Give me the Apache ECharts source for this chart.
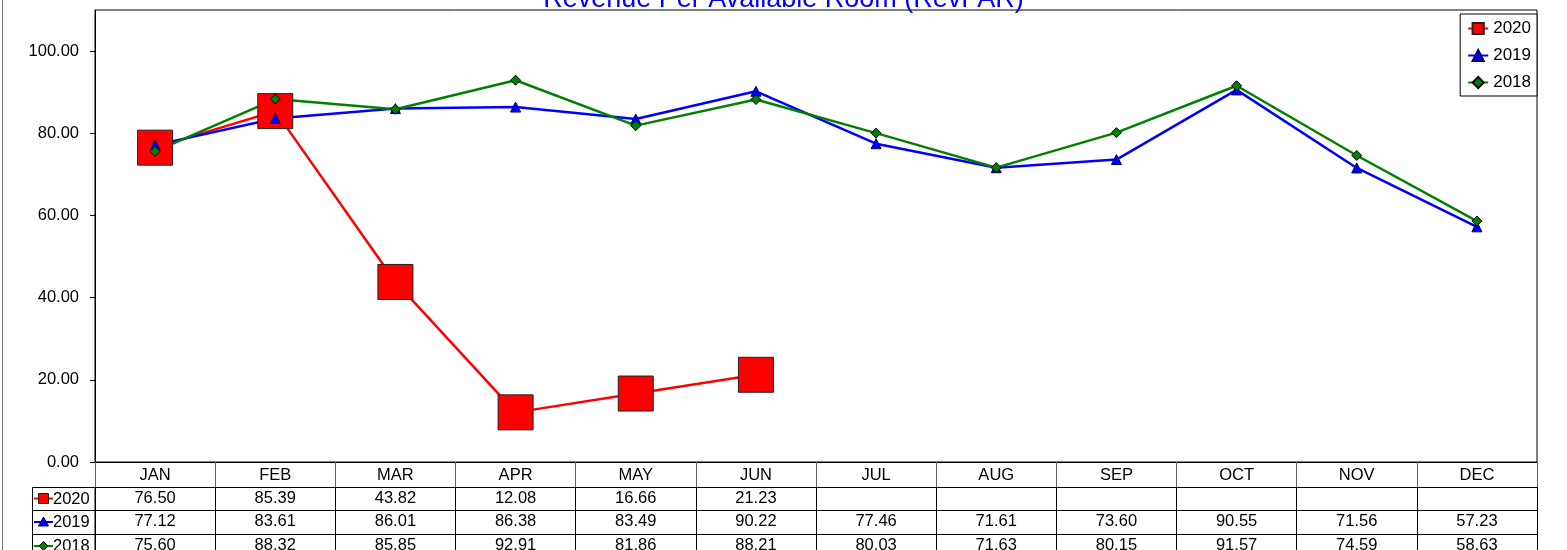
<!DOCTYPE html>
<html>
<head>
<meta charset="utf-8">
<style>
html,body{margin:0;padding:0;background:#fff;}
#chart{width:1567px;height:550px;}
</style>
<script src="https://cdn.jsdelivr.net/npm/echarts@6/dist/echarts.min.js"></script>
</head>
<body>
<div id="chart"></div>
<script>
const months = ['JAN','FEB','MAR','APR','MAY','JUN','JUL','AUG','SEP','OCT','NOV','DEC'];
const rev2020 = [76.50, 85.39, 43.82, 12.08, 16.66, 21.23];
const rev2019 = [77.12, 83.61, 86.01, 86.38, 83.49, 90.22, 77.46, 71.61, 73.60, 90.55, 71.56, 57.23];
const rev2018 = [75.60, 88.32, 85.85, 92.91, 81.86, 88.21, 80.03, 71.63, 80.15, 91.57, 74.59, 58.63];
const yTicks = [0, 20, 40, 60, 80, 100];
const titleText = 'Revenue Per Available Room (RevPAR)';

const FONT = 'Liberation Sans, Arial, sans-serif';
const FS = 16.5;
const seriesDefs = [
  {name: '2020', data: rev2020, color: '#FF0000', symbol: 'rect', size: 35, border: '#222222'},
  {name: '2019', data: rev2019, color: '#0000FF', symbol: 'triangle', size: 10, border: '#000066'},
  {name: '2018', data: rev2018, color: '#008000', symbol: 'diamond', size: 10, border: '#000000'}
];

const GRID = {left: 95, right: 30, top: 10, bottom: 88};
const rowOffsets = [25, 48, 72];
const rowHeights = [23, 24, 24];

function rowAxis(s, i) {
  return {
    type: 'category', data: months, gridIndex: 0, position: 'bottom', offset: rowOffsets[i],
    axisLine: {show: true, lineStyle: {color: '#000', width: 1}},
    axisTick: {show: true, alignWithLabel: false, interval: 0, length: rowHeights[i], lineStyle: {color: '#000'}},
    axisLabel: {
      interval: 0, margin: 3, color: '#000', fontSize: FS, fontFamily: FONT,
      formatter: (v, idx) => (s.data[idx] === undefined ? '' : s.data[idx].toFixed(2))
    },
    splitLine: {show: false}
  };
}

const graphics = [
  {type: 'line', shape: {x1: 2.5, y1: 0, x2: 2.5, y2: 550}, style: {stroke: '#777', lineWidth: 1}, silent: true}
];
seriesDefs.forEach((s, i) => {
  const y = 462 + rowOffsets[i];
  const h = rowHeights[i];
  const cy = y + h / 2;
  graphics.push({type: 'rect', shape: {x: 32.5, y: y + 0.5, width: 62.5, height: h}, style: {fill: '#fff', stroke: '#000', lineWidth: 1}, silent: true});
  graphics.push({type: 'line', shape: {x1: 34, y1: cy, x2: 53, y2: cy}, style: {stroke: s.color, lineWidth: 2}, silent: true});
  let shape;
  if (s.symbol === 'rect') {
    shape = {type: 'rect', shape: {x: 38.5, y: cy - 5, width: 10, height: 10}, style: {fill: s.color, stroke: s.border, lineWidth: 1}};
  } else if (s.symbol === 'triangle') {
    shape = {type: 'polygon', shape: {points: [[43.5, cy - 5], [48.5, cy + 4], [38.5, cy + 4]]}, style: {fill: s.color, stroke: s.border, lineWidth: 1}};
  } else {
    shape = {type: 'polygon', shape: {points: [[43.5, cy - 4.5], [48, cy], [43.5, cy + 4.5], [39, cy]]}, style: {fill: s.color, stroke: s.border, lineWidth: 1}};
  }
  shape.silent = true;
  graphics.push(shape);
  graphics.push({type: 'text', x: 53, y: cy + 0.5, style: {text: s.name, fill: '#000', font: FS + 'px ' + FONT, verticalAlign: 'middle', align: 'left'}, silent: true});
});

const option = {
  animation: false,
  backgroundColor: '#fff',
  title: {
    text: titleText, left: 'center', top: -14, padding: 0,
    textStyle: {color: '#0000FF', fontSize: 27, fontWeight: 'normal', fontFamily: FONT}
  },
  legend: {
    orient: 'vertical', right: 30, top: 14,
    data: seriesDefs.map(s => s.name),
    backgroundColor: '#fff', borderColor: '#000', borderWidth: 1, borderRadius: 0,
    padding: [6, 6, 5, 7], itemWidth: 20, itemHeight: 14, itemGap: 10,
    textStyle: {fontSize: 17, color: '#000', fontFamily: FONT},
    selectedMode: false
  },
  grid: {left: GRID.left, right: GRID.right, top: GRID.top, bottom: GRID.bottom, show: true, borderColor: '#000', borderWidth: 1, backgroundColor: 'transparent', containLabel: false, outerBoundsMode: 'none'},
  xAxis: [
    {
      type: 'category', data: months, gridIndex: 0, position: 'bottom', offset: 0,
      axisLine: {show: true, lineStyle: {color: '#000', width: 1}},
      axisTick: {show: true, alignWithLabel: false, interval: 0, length: 25, lineStyle: {color: '#666'}},
      axisLabel: {interval: 0, margin: 5, color: '#000', fontSize: FS, fontFamily: FONT},
      splitLine: {show: false}
    }
  ].concat(seriesDefs.map(rowAxis)),
  yAxis: {
    type: 'value', min: 0, max: 110, interval: 20,
    axisLine: {show: true, lineStyle: {color: '#000'}},
    axisTick: {show: true, length: 5, lineStyle: {color: '#000'}, customValues: yTicks},
    axisLabel: {color: '#000', fontSize: FS, fontFamily: FONT, margin: 16, customValues: yTicks, formatter: v => v.toFixed(2)},
    splitLine: {show: false}
  },
  series: seriesDefs.map(s => ({
    name: s.name, type: 'line', data: s.data, xAxisIndex: 0, yAxisIndex: 0,
    symbol: s.symbol, symbolSize: s.size, showAllSymbol: true,
    color: s.color,
    lineStyle: {color: s.color, width: 2.5},
    itemStyle: {color: s.color, borderColor: s.border, borderWidth: 1},
    emphasis: {disabled: true}
  })),
  graphic: graphics
};

const chart = echarts.init(document.getElementById('chart'), null, {renderer: 'canvas'});
chart.setOption(option);
</script>
</body>
</html>
